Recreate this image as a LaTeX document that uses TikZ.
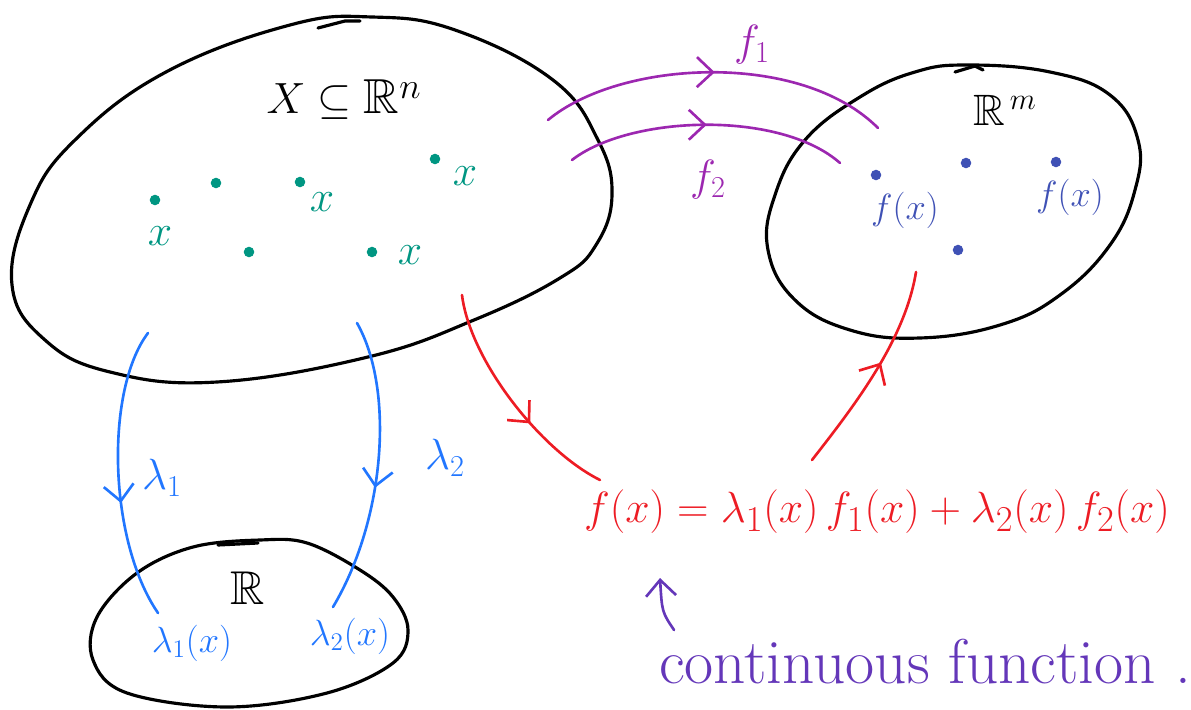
\documentclass[tikz,border=0pt]{standalone}
\usepackage{amssymb}
\usetikzlibrary{arrows.meta,decorations.markings}
\definecolor{setblack}{RGB}{0,0,0}
\definecolor{ptgreen}{RGB}{0,150,130}
\definecolor{imgblue}{RGB}{63,81,181}
\definecolor{mapviolet}{RGB}{156,39,176}
\definecolor{lamblue}{RGB}{33,118,255}
\definecolor{combred}{RGB}{237,28,36}
\definecolor{notepurple}{RGB}{100,55,185}
\newcommand{\fsz}[1]{\fontsize{#1}{#1}\selectfont}
\begin{document}
\begin{tikzpicture}[x=0.02cm,y=-0.02cm,line cap=round,line join=round,
  setline/.style={draw=setblack,line width=1.8pt},
  mapline/.style={line width=1.5pt},
  midarr/.style={postaction={decorate},decoration={markings,
     mark=at position #1 with {\arrow{Straight Barb[length=3.2mm,width=6mm,line width=1.5pt]}}}},
  ptdot/.style={circle,inner sep=0pt,minimum size=6pt,fill=#1},
  lbl/.style={inner sep=0pt}]
\useasboundingbox (0,0) rectangle (1191,710);

% sets
\draw[setline] plot[smooth cycle,tension=0.7] coordinates {(12,285) (30,205) (75,140) (166,72) (290,25) (372,17) (455,30) (553,80) (598,140) (612,195) (596,245) (560,278) (474,320) (368,357) (217,382) (110,372) (45,340)};
\draw[setline] (318,28) -- (345,21) -- (360,21);
\draw[setline] plot[smooth cycle,tension=0.7] coordinates {(968,65) (1050,72) (1110,95) (1138,140) (1135,190) (1110,245) (1060,295) (1000,325) (920,338) (850,330) (795,300) (768,250) (775,195) (805,140) (860,97) (915,72)};
\draw[setline] (955,72) -- (975,66) -- (983,70);
\draw[setline] plot[smooth cycle,tension=0.6] coordinates {(260,540) (307,543) (360,570) (393,597) (408,630) (393,663) (327,693) (227,707) (127,693) (93,660) (97,617) (137,573) (193,547)};
\draw[setline] (218,545) -- (258,543);

% set labels
\node[lbl,font=\fsz{28pt}] (Xset) at (344,100) {$X \subseteq \mathbb{R}^n$};
\node[lbl,font=\fsz{25pt}] (Rm) at (1005,110) {$\mathbb{R}^{\,m}$};
\node[lbl,font=\fsz{27pt}] (R1) at (248,588) {$\mathbb{R}$};

% points in X
\node[ptdot=ptgreen] (p1) at (155,200) {};
\node[ptdot=ptgreen] (p2) at (216,183) {};
\node[ptdot=ptgreen] (p3) at (300,182) {};
\node[ptdot=ptgreen] (p4) at (435,159) {};
\node[ptdot=ptgreen] (p5) at (249,252) {};
\node[ptdot=ptgreen] (p6) at (372,252) {};
\begin{scope}[every node/.style={lbl,text=ptgreen,font=\fsz{30pt}}]
\node (x1) at (160,236) {$x$};
\node (x2) at (322,202) {$x$};
\node (x3) at (465,176) {$x$};
\node (x4) at (410,255) {$x$};
\end{scope}

% points in R^m
\node[ptdot=imgblue] (q1) at (876,175) {};
\node[ptdot=imgblue] (q2) at (966,163) {};
\node[ptdot=imgblue] (q3) at (1056,162) {};
\node[ptdot=imgblue] (q4) at (958,250) {};
\node[lbl,text=imgblue,font=\fsz{21pt}] (fx1) at (905,210) {$f(x)$};
\node[lbl,text=imgblue,font=\fsz{21pt}] (fx2) at (1070,197) {$f(x)$};

% f1, f2
\coordinate (f1s) at (548,120); \coordinate (f1e) at (878,128);
\coordinate (f2s) at (572,160); \coordinate (f2e) at (840,163);
\draw[mapline,mapviolet,midarr=0.5] (f1s) .. controls (620,60) and (800,50) .. (f1e);
\draw[mapline,mapviolet,midarr=0.5] (f2s) .. controls (630,115) and (780,110) .. (f2e);
\node[lbl,text=mapviolet,font=\fsz{24pt}] (f1l) at (752,45) {$f_1$};
\node[lbl,text=mapviolet,font=\fsz{24pt}] (f2l) at (708,180) {$f_2$};

% lambda maps
\coordinate (l1s) at (148,333); \coordinate (l1e) at (158,613);
\coordinate (l2s) at (357,323); \coordinate (l2e) at (333,607);
\draw[mapline,lamblue,midarr=0.6] (l1s) .. controls (105,390) and (108,540) .. (l1e);
\draw[mapline,lamblue,midarr=0.57] (l2s) .. controls (395,390) and (385,520) .. (l2e);
\node[lbl,text=lamblue,font=\fsz{24pt}] (l1l) at (162,478) {$\lambda_1$};
\node[lbl,text=lamblue,font=\fsz{26pt}] (l2l) at (445,458) {$\lambda_2$};
\node[lbl,text=lamblue,font=\fsz{22pt}] (l1x) at (192,643) {$\lambda_1(x)$};
\node[lbl,text=lamblue,font=\fsz{22pt}] (l2x) at (350,636) {$\lambda_2(x)$};

% combination
\node[lbl,text=combred,font=\fsz{27.5pt}] (eq) at (877,512) {$f(x) = \lambda_1(x)\, f_1(x) + \lambda_2(x)\, f_2(x)$};
\coordinate (r1s) at (462,295); \coordinate (r1e) at (600,480);
\coordinate (r2s) at (812,460); \coordinate (r2e) at (916,272);
\draw[mapline,combred,midarr=0.62] (r1s) .. controls (470,360) and (540,450) .. (r1e);
\draw[mapline,combred,midarr=0.55] (r2s) .. controls (855,405) and (905,340) .. (r2e);

% note
\coordinate (nb) at (674,630); \coordinate (nt) at (660,578);
\draw[mapline,notepurple,-{Straight Barb[length=3.2mm,width=6mm]}] (nb) .. controls (662,612) .. (nt);
\node[lbl,text=notepurple,font=\fsz{36pt}] (note) at (925,662) {continuous function .};
\end{tikzpicture}
\end{document}
